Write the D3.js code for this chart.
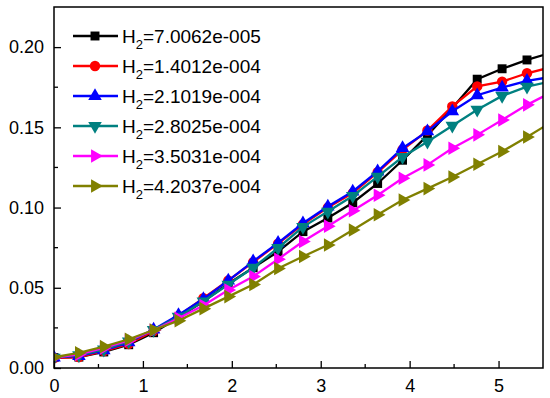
<!DOCTYPE html>
<html>
<head>
<meta charset="utf-8">
<script src="https://cdn.jsdelivr.net/npm/d3@7"></script>
<style>
  body { margin: 0; background: #fff; }
  text { font-family: "Liberation Sans", Arial, sans-serif; }
</style>
</head>
<body>
<script>
// x positions of the samples (last one lies past the axis end and gets clipped)
var xs = [0, 0.28, 0.56, 0.84, 1.12, 1.40, 1.68, 1.96, 2.24, 2.52, 2.80,
          3.08, 3.36, 3.64, 3.92, 4.20, 4.48, 4.76, 5.04, 5.32, 5.60];

var h1 = [0.0065, 0.0068, 0.0100, 0.0145, 0.0220, 0.0315, 0.0415, 0.0525, 0.0625, 0.0725, 0.0850,
          0.0935, 0.1030, 0.1150, 0.1295, 0.1450, 0.1620, 0.1800, 0.1865, 0.1920, 0.1967];
var h2 = [0.0062, 0.0068, 0.0105, 0.0150, 0.0230, 0.0325, 0.0435, 0.0545, 0.0660, 0.0775, 0.0895,
          0.1000, 0.1090, 0.1220, 0.1360, 0.1480, 0.1630, 0.1755, 0.1785, 0.1837, 0.1876];
var h3 = [0.0065, 0.0075, 0.0110, 0.0160, 0.0240, 0.0330, 0.0430, 0.0545, 0.0665, 0.0780, 0.0902,
          0.1006, 0.1100, 0.1225, 0.1370, 0.1475, 0.1600, 0.1700, 0.1748, 0.1790, 0.1815];
var h4 = [0.0065, 0.0080, 0.0115, 0.0165, 0.0238, 0.0320, 0.0415, 0.0520, 0.0625, 0.0748, 0.0880,
          0.0975, 0.1072, 0.1193, 0.1315, 0.1410, 0.1510, 0.1610, 0.1696, 0.1754, 0.1787];
var h5 = [0.0065, 0.0085, 0.0125, 0.0172, 0.0235, 0.0310, 0.0390, 0.0486, 0.0570, 0.0678, 0.0788,
          0.0884, 0.0980, 0.1077, 0.1183, 0.1266, 0.1370, 0.1453, 0.1546, 0.1640, 0.1720];
var h6 = [0.0067, 0.0095, 0.0133, 0.0179, 0.0237, 0.0295, 0.0370, 0.0445, 0.0520, 0.0620, 0.0695,
          0.0767, 0.0860, 0.0955, 0.1047, 0.1118, 0.1190, 0.1270, 0.1349, 0.1440, 0.1534];

var labels = ["7.0062e-005", "1.4012e-004", "2.1019e-004",
              "2.8025e-004", "3.5031e-004", "4.2037e-004"];
var colors = ["#000000", "#ff0000", "#0000ff", "#008080", "#ff00ff", "#808000"];
var xTicks = [0, 1, 2, 3, 4, 5];
var yTicks = [0.00, 0.05, 0.10, 0.15, 0.20];

var series = [h1, h2, h3, h4, h5, h6];
// marker shape + rotation for each series
var shapes = [
  {type: d3.symbolSquare, size: 80, rot: 0},
  {type: d3.symbolCircle, size: 85, rot: 0},
  {type: d3.symbolTriangle, size: 80, rot: 0},
  {type: d3.symbolTriangle, size: 80, rot: 180},
  {type: d3.symbolTriangle, size: 80, rot: 90},
  {type: d3.symbolTriangle, size: 80, rot: 90}
];

var W = 550, H = 398,
    pL = 54, pR = 543, pT = 7, pB = 368;

var svg = d3.select("body").append("svg")
    .attr("width", W).attr("height", H);

var x = d3.scaleLinear().domain([0, 5.5]).range([pL, pR]);
var y = d3.scaleLinear().domain([0, 0.225]).range([pB, pT]);

svg.append("clipPath").attr("id", "plot")
  .append("rect").attr("x", pL).attr("y", pT)
  .attr("width", pR - pL).attr("height", pB - pT);

/* series */
var line = d3.line().x(function(d, i) { return x(xs[i]); })
                    .y(function(d) { return y(d); });
var plot = svg.append("g").attr("clip-path", "url(#plot)");

series.forEach(function(s, k) {
  var g = plot.append("g");
  g.append("path").datum(s)
    .attr("d", line)
    .attr("fill", "none")
    .attr("stroke", colors[k])
    .attr("stroke-width", 2.3);
  var sym = d3.symbol().type(shapes[k].type).size(shapes[k].size);
  g.selectAll("path.m").data(s).enter().append("path")
    .attr("class", "m")
    .attr("d", sym)
    .attr("fill", colors[k])
    .attr("transform", function(d, i) {
      return "translate(" + x(xs[i]) + "," + y(d) + ") rotate(" + shapes[k].rot + ")";
    });
});

/* axes box with inward ticks */
var xAxis = d3.axisBottom(x).tickValues(xTicks).tickSize(-7).tickPadding(11)
    .tickFormat(d3.format("d"));
var yAxis = d3.axisLeft(y).tickValues(yTicks).tickSize(-7).tickPadding(10)
    .tickFormat(d3.format(".2f"));

var gx = svg.append("g").attr("transform", "translate(0," + pB + ")").call(xAxis);
var gy = svg.append("g").attr("transform", "translate(" + pL + ",0)").call(yAxis);

// minor ticks
var xMinor = d3.range(0.5, 5.5, 1);
var yMinor = d3.range(0.025, 0.225, 0.05);
svg.selectAll("line.xm").data(xMinor).enter().append("line")
  .attr("x1", function(d) { return x(d); }).attr("x2", function(d) { return x(d); })
  .attr("y1", pB).attr("y2", pB - 4)
  .attr("stroke", "#000").attr("stroke-width", 1.3);
svg.selectAll("line.ym").data(yMinor).enter().append("line")
  .attr("y1", function(d) { return y(d); }).attr("y2", function(d) { return y(d); })
  .attr("x1", pL).attr("x2", pL + 4)
  .attr("stroke", "#000").attr("stroke-width", 1.3);

[gx, gy].forEach(function(g) {
  g.select(".domain").remove();
  g.selectAll(".tick line").attr("stroke", "#000").attr("stroke-width", 1.3);
  g.selectAll(".tick text").attr("fill", "#000")
    .style("font-size", "18px")
    .style("font-family", "'Liberation Sans', Arial, sans-serif");
});

svg.append("rect")
  .attr("x", pL).attr("y", pT)
  .attr("width", pR - pL).attr("height", pB - pT)
  .attr("fill", "none").attr("stroke", "#000").attr("stroke-width", 1.5);

/* legend */
var legend = svg.append("g");
labels.forEach(function(lab, k) {
  var ly = 36 + k * 30;
  legend.append("line")
    .attr("x1", 73).attr("x2", 118).attr("y1", ly).attr("y2", ly)
    .attr("stroke", colors[k]).attr("stroke-width", 2.3);
  legend.append("path")
    .attr("d", d3.symbol().type(shapes[k].type).size(shapes[k].size))
    .attr("fill", colors[k])
    .attr("transform", "translate(95," + ly + ") rotate(" + shapes[k].rot + ")");
  var t = legend.append("text")
    .attr("x", 122).attr("y", ly + 7)
    .style("font-size", "19px")
    .attr("fill", "#000");
  t.append("tspan").text("H");
  t.append("tspan").attr("dy", 6).style("font-size", "13px").text("2");
  t.append("tspan").attr("dy", -6).text("=" + lab);
});
</script>
</body>
</html>
